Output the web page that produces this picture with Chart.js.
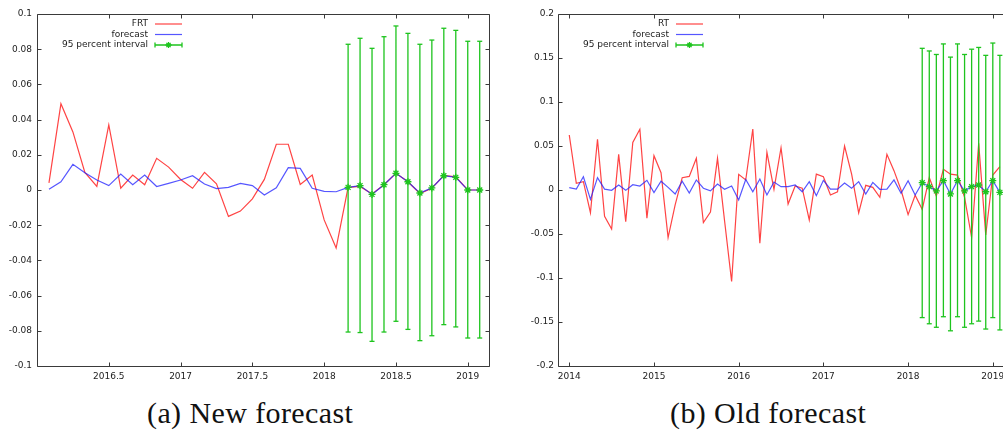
<!DOCTYPE html>
<html><head><meta charset="utf-8">
<script src="https://cdn.jsdelivr.net/npm/chart.js@4.4.1/dist/chart.umd.min.js"></script>
<style>
html,body{margin:0;padding:0;background:#fff;overflow:hidden;width:1003px;height:432px;}
#wa{position:absolute;left:0;top:0;width:500px;height:390px;}
#wb{position:absolute;left:500px;top:0;width:503px;height:390px;overflow:hidden;}
.cap{position:absolute;top:398px;font-family:'Liberation Serif',serif;font-size:30px;line-height:30px;color:#111;letter-spacing:0.4px;white-space:nowrap;}
</style></head><body>
<div id="wa"><canvas id="ca" width="500" height="390"></canvas></div>
<div id="wb"><canvas id="cb" width="520" height="390"></canvas></div>
<div class="cap" style="left:147px">(a) New forecast</div>
<div class="cap" style="left:670px">(b) Old forecast</div>
<script>
// ---------- Panel (a): New forecast ----------
const startA = '2016-02';
const actualA = [0.004, 0.049, 0.033, 0.010, 0.002, 0.037, 0.001, 0.0085, 0.003, 0.018,
  0.013, 0.006, 0.001, 0.010, 0.0035, -0.015, -0.012, -0.005, 0.006, 0.026,
  0.026, 0.0032, 0.0085, -0.017, -0.033, 0.0015, 0.002, -0.0023, 0.003, 0.0095,
  0.0047, -0.002, 0.001, 0.0083, 0.0075, 0, 0];
const forecastA = [0.0004, 0.0047, 0.0146, 0.0098, 0.0057, 0.0025, 0.009, 0.003, 0.0085, 0.002,
  0.0038, 0.0057, 0.0081, 0.0034, 0.0008, 0.0015, 0.0038, 0.0025, -0.0028, 0.0013,
  0.0127, 0.0123, 0.001, -0.0008, -0.001, 0.0015, 0.0025, -0.0025, 0.003, 0.0095,
  0.0047, -0.0017, 0.0012, 0.0081, 0.0072, 0, 0];
const intervalStartA = '2018-03';
const upperA = [0.0828, 0.0862, 0.0805, 0.0871, 0.0932, 0.089, 0.0828, 0.0852, 0.0919, 0.0907, 0.0845, 0.0845];
const lowerA = [-0.0807, -0.081, -0.086, -0.0807, -0.0746, -0.0792, -0.0856, -0.0828, -0.0765, -0.0778, -0.0841, -0.0841];
const xTicksA = [2016.5, 2017, 2017.5, 2018, 2018.5, 2019];
const yTicksA = [-0.1, -0.08, -0.06, -0.04, -0.02, 0, 0.02, 0.04, 0.06, 0.08, 0.1];
const seriesNameA = 'FRT';

// ---------- Panel (b): Old forecast ----------
const startB = '2014-01';
const actualB = [0.0625, 0.0076, 0.0095, -0.0258, 0.0576, -0.030, -0.0443, 0.0405, -0.036, 0.054,
  0.069, -0.032, 0.039, 0.0197, -0.054, -0.017, 0.014, 0.0155, 0.036, -0.037,
  -0.025, 0.036, -0.035, -0.104, 0.0178, 0.0114, 0.0693, -0.0606, 0.0428, 0.0008,
  0.048, -0.016, 0.0045, 0.002, -0.034, 0.018, 0.015, -0.0057, -0.002, 0.050,
  0.018, -0.026, 0.0053, 0.003, -0.0083, 0.0405, 0.022, 0.0, -0.028, -0.006,
  -0.022, 0.014, -0.007, 0.0235, 0.018, 0.017, -0.0083, -0.054, 0.053, -0.051,
  0.017, 0.0265];
const forecastB = [0.0027, 0.001, 0.015, -0.0106, 0.014, 0.001, -0.0004, 0.0057, -0.0004, 0.006,
  0.0045, 0.011, -0.003, 0.010, 0.003, -0.0045, 0.010, -0.0034, 0.0114, 0.002,
  -0.001, 0.0068, 0.0008, 0.0045, -0.0114, 0.012, -0.002, 0.0125, -0.0057, 0.009,
  0.0038, 0.0038, 0.0057, -0.002, 0.0095, -0.0064, 0.011, 0.001, 0.001, 0.008,
  0.002, 0.0095, -0.0045, 0.0087, 0.0008, 0.001, 0.0114, -0.0038, 0.0106, -0.0057,
  0.0083, 0.0038, -0.001, 0.0106, -0.0045, 0.0106, -0.001, 0.0038, 0.0057, -0.002,
  0.0106, -0.0027];
const intervalStartB = '2018-03';
const upperB = [0.161, 0.158, 0.154, 0.166, 0.151, 0.166, 0.154, 0.160, 0.162, 0.153, 0.167, 0.153];
const lowerB = [-0.145, -0.152, -0.156, -0.144, -0.160, -0.144, -0.156, -0.152, -0.149, -0.158, -0.145, -0.159];
const xTicksB = [2014, 2015, 2016, 2017, 2018, 2019];
const yTicksB = [-0.2, -0.15, -0.1, -0.05, 0, 0.05, 0.1, 0.15, 0.2];
const seriesNameB = 'RT';

// ---------- helpers ----------
function monthLabels(start, n) {
  let [y, m] = start.split('-').map(Number);
  const out = [];
  for (let i = 0; i < n; i++) {
    out.push(y + '-' + String(m).padStart(2, '0'));
    m++; if (m > 12) { m = 1; y++; }
  }
  return out;
}
function ym(s) { const [y, m] = s.split('-').map(Number); return y + (m - 1) / 12; }

const RED = 'rgba(255,20,20,0.8)';
const BLUE = 'rgba(30,30,255,0.75)';
const GREEN = '#1ec41e';
const FONT = '"DejaVu Sans", sans-serif';

Chart.defaults.font.family = FONT;
Chart.defaults.font.size = 9;
Chart.defaults.color = '#222';
Chart.defaults.animation = false;

function drawStar(ctx, x, y, r) {
  ctx.beginPath();
  ctx.moveTo(x - r, y); ctx.lineTo(x + r, y);
  ctx.moveTo(x, y - r); ctx.lineTo(x, y + r);
  const d = r * 0.7071;
  ctx.moveTo(x - d, y - d); ctx.lineTo(x + d, y + d);
  ctx.moveTo(x - d, y + d); ctx.lineTo(x + d, y - d);
  ctx.stroke();
}

function makeChart(id, cfg) {
  const months = monthLabels(cfg.start, cfg.actual.length);
  const ivMonths = monthLabels(cfg.ivStart, cfg.upper.length);
  const ivIndex0 = months.indexOf(cfg.ivStart);
  const errData = [];
  ivMonths.forEach((m, i) => {
    errData.push({ x: ym(m), y: cfg.lower[i] });
    errData.push({ x: ym(m), y: cfg.upper[i] });
    errData.push({ x: ym(m), y: null });
  });
  const starData = ivMonths.map((m, i) => ({ x: ym(m), y: cfg.forecast[ivIndex0 + i] }));

  const frame = {
    id: 'frame',
    beforeDatasetsDraw(chart) {
      const ctx = chart.ctx, a = chart.chartArea;
      ctx.save();
      ctx.strokeStyle = '#3a3a3a';
      ctx.lineWidth = 1;
      const L = Math.round(a.left) + 0.5, R = Math.round(a.right) + 0.5;
      const T = Math.round(a.top) + 0.5, B = Math.round(a.bottom) + 0.5;
      ctx.beginPath();
      ctx.moveTo(L, T); ctx.lineTo(R, T); ctx.lineTo(R, B); ctx.lineTo(L, B); ctx.closePath();
      ctx.stroke();
      ctx.beginPath();
      const xs = chart.scales.x, ys = chart.scales.y;
      xs.ticks.forEach(t => {
        const p = Math.round(xs.getPixelForValue(t.value)) + 0.5;
        ctx.moveTo(p, B); ctx.lineTo(p, B - 4);
        ctx.moveTo(p, T); ctx.lineTo(p, T + 4);
      });
      ys.ticks.forEach(t => {
        const p = Math.round(ys.getPixelForValue(t.value)) + 0.5;
        ctx.moveTo(L, p); ctx.lineTo(L + 4, p);
        ctx.moveTo(R, p); ctx.lineTo(R - 4, p);
      });
      ctx.stroke();
      ctx.restore();
    },
    afterDatasetsDraw(chart) {
      const ctx = chart.ctx, a = chart.chartArea;
      const tx = a.left + 111, x1 = a.left + 118, x2 = a.left + 145;
      const rows = [a.top + 10, a.top + 20.5, a.top + 31];
      const names = [cfg.name, 'forecast', '95 percent interval'];
      ctx.save();
      ctx.font = '9px ' + FONT;
      ctx.fillStyle = '#222';
      ctx.textAlign = 'right';
      ctx.textBaseline = 'middle';
      names.forEach((n, i) => ctx.fillText(n, tx, rows[i]));
      ctx.lineWidth = 1.2;
      ctx.strokeStyle = RED;
      ctx.beginPath(); ctx.moveTo(x1, rows[0]); ctx.lineTo(x2, rows[0]); ctx.stroke();
      ctx.strokeStyle = BLUE;
      ctx.beginPath(); ctx.moveTo(x1, rows[1]); ctx.lineTo(x2, rows[1]); ctx.stroke();
      ctx.strokeStyle = GREEN;
      ctx.lineWidth = 1.3;
      ctx.beginPath();
      ctx.moveTo(x1, rows[2]); ctx.lineTo(x2, rows[2]);
      ctx.moveTo(x1, rows[2] - 2.5); ctx.lineTo(x1, rows[2] + 2.5);
      ctx.moveTo(x2, rows[2] - 2.5); ctx.lineTo(x2, rows[2] + 2.5);
      ctx.stroke();
      drawStar(ctx, (x1 + x2) / 2, rows[2], 3);
      ctx.restore();
    }
  };

  return new Chart(document.getElementById(id), {
    type: 'line',
    data: {
      datasets: [
        { label: cfg.name, data: months.map((m, i) => ({ x: ym(m), y: cfg.actual[i] })),
          borderColor: RED, borderWidth: 1.2, pointRadius: 0, tension: 0, order: 3 },
        { label: 'forecast', data: months.map((m, i) => ({ x: ym(m), y: cfg.forecast[i] })),
          borderColor: BLUE, borderWidth: 1.2, pointRadius: 0, tension: 0, order: 2 },
        { label: '95 percent interval', data: errData, borderColor: GREEN, borderWidth: 1.3,
          pointStyle: 'line', pointRadius: 2.5, pointBorderWidth: 1.3, pointBorderColor: GREEN,
          pointBackgroundColor: GREEN, spanGaps: false, tension: 0, order: 1 },
        { label: 'markers', data: starData, showLine: false, pointStyle: 'star', pointRadius: 3.5,
          pointBorderWidth: 1.3, pointBorderColor: GREEN, pointBackgroundColor: GREEN, order: 0 }
      ]
    },
    options: {
      responsive: false,
      animation: false,
      events: [],
      layout: { padding: { top: 14, right: cfg.padRight, bottom: 0, left: 0 } },
      plugins: { legend: { display: false }, tooltip: { enabled: false } },
      scales: {
        x: {
          type: 'linear', min: cfg.xmin, max: cfg.xmax,
          grid: { display: false, drawTicks: false }, border: { display: false },
          ticks: { padding: 5, maxRotation: 0, autoSkip: false, color: '#222',
                   callback: v => String(v) },
          afterBuildTicks: s => { s.ticks = cfg.xTicks.map(v => ({ value: v })); },
          afterFit: s => { s.height = 24; }
        },
        y: {
          type: 'linear', min: cfg.ymin, max: cfg.ymax,
          grid: { display: false, drawTicks: false }, border: { display: false },
          ticks: { padding: cfg.yPad, autoSkip: false, color: '#222', callback: v => String(v) },
          afterBuildTicks: s => { s.ticks = cfg.yTicks.map(v => ({ value: v })); },
          afterFit: s => { s.width = cfg.yWidth; }
        }
      }
    },
    plugins: [frame]
  });
}

makeChart('ca', {
  start: startA, actual: actualA, forecast: forecastA, ivStart: intervalStartA,
  upper: upperA, lower: lowerA, xTicks: xTicksA, yTicks: yTicksA, name: seriesNameA,
  xmin: 2016.0, xmax: 2019.148, ymin: -0.1, ymax: 0.1, yWidth: 37, yPad: 5, padRight: 11
});
makeChart('cb', {
  start: startB, actual: actualB, forecast: forecastB, ivStart: intervalStartB,
  upper: upperB, lower: lowerB, xTicks: xTicksB, yTicks: yTicksB, name: seriesNameB,
  xmin: 2013.867, xmax: 2019.203, ymin: -0.2, ymax: 0.2, yWidth: 58, yPad: 4, padRight: 10
});
</script>
</body></html>
